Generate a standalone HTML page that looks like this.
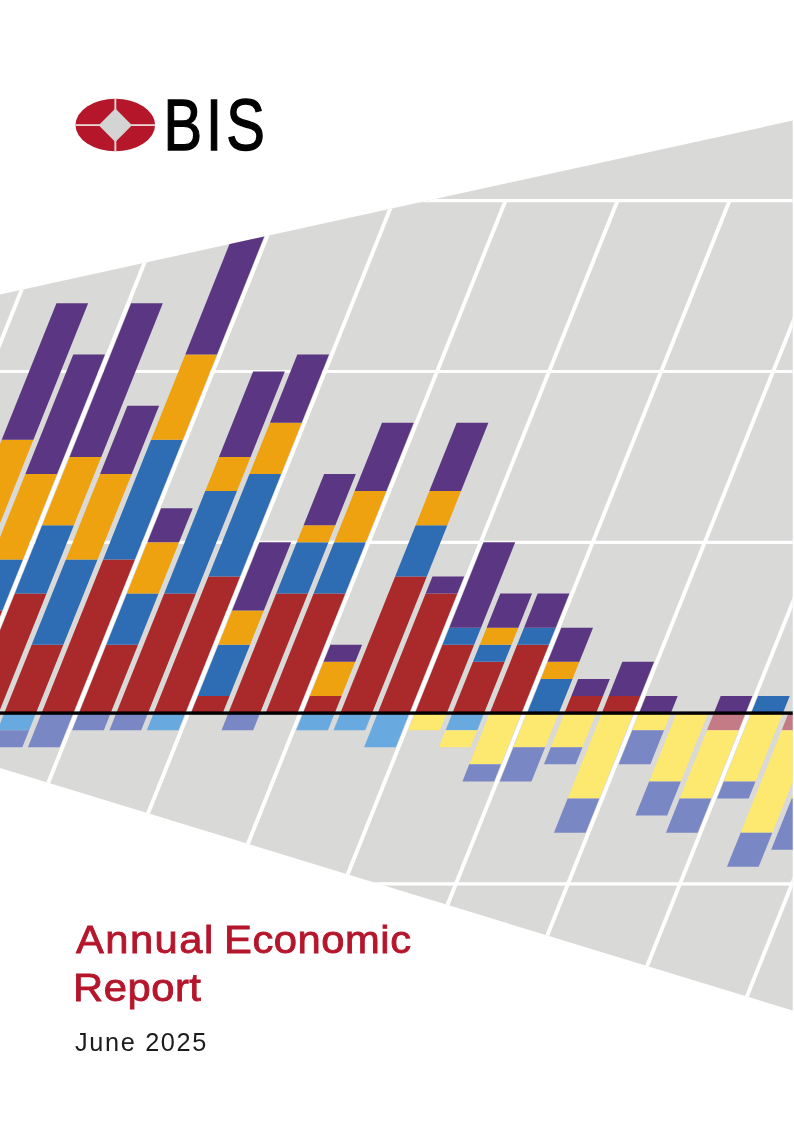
<!DOCTYPE html>
<html lang="en"><head><meta charset="utf-8"><title>BIS Annual Economic Report</title>
<style>
html,body{margin:0;padding:0;background:#fff;}
body{width:794px;height:1123px;position:relative;overflow:hidden;font-family:"Liberation Sans",sans-serif;}
svg{position:absolute;left:0;top:0;}
.t{position:absolute;margin:0;font-weight:400;font-size:39.4px;line-height:48px;color:#b5162c;-webkit-text-stroke:0.85px #b5162c;white-space:nowrap;transform:scaleX(1.06);transform-origin:0 0;}
.date{position:absolute;left:75px;top:1027px;margin:0;font-size:25.3px;line-height:30px;color:#1d1b1c;letter-spacing:1.65px;white-space:nowrap;}
</style></head><body>
<svg width="794" height="1123" viewBox="0 0 794 1123">
<defs><clipPath id="el"><ellipse cx="115.3" cy="125.05" rx="39.8" ry="26.25"/></clipPath><clipPath id="cp"><polygon points="0,294.5 792.7,120.6 792.7,1010.6 0,768"/></clipPath></defs>
<g clip-path="url(#cp)">
<rect x="0" y="0" width="794" height="1123" fill="#d9d9d8"/>
<g transform="matrix(1 0 -0.4005 1 285.597 0)">
<rect x="-600" y="199.10" width="2200" height="3.2" fill="#fff"/>
<rect x="-600" y="369.90" width="2200" height="3.2" fill="#fff"/>
<rect x="-600" y="540.70" width="2200" height="3.2" fill="#fff"/>
<rect x="-600" y="882.30" width="2200" height="3.2" fill="#fff"/>
<rect x="-374.07" y="200.70" width="4.2" height="1024.80" fill="#fff"/>
<rect x="-262.04" y="200.70" width="4.2" height="1024.80" fill="#fff"/>
<rect x="-150.00" y="200.70" width="4.2" height="1024.80" fill="#fff"/>
<rect x="-37.97" y="200.70" width="4.2" height="1024.80" fill="#fff"/>
<rect x="74.07" y="200.70" width="4.2" height="1024.80" fill="#fff"/>
<rect x="186.10" y="200.70" width="4.2" height="1024.80" fill="#fff"/>
<rect x="298.14" y="200.70" width="4.2" height="1024.80" fill="#fff"/>
<rect x="410.17" y="200.70" width="4.2" height="1024.80" fill="#fff"/>
<rect x="522.21" y="200.70" width="4.2" height="1024.80" fill="#fff"/>
<rect x="634.24" y="200.70" width="4.2" height="1024.80" fill="#fff"/>
<rect x="746.28" y="200.70" width="4.2" height="1024.80" fill="#fff"/>
<rect x="858.31" y="200.70" width="4.2" height="1024.80" fill="#fff"/>
<rect x="970.35" y="200.70" width="4.2" height="1024.80" fill="#fff"/>
<rect x="-107.73" y="593.54" width="31.7" height="119.56" fill="#aa2a2b"/>
<rect x="-107.73" y="525.22" width="31.7" height="68.32" fill="#2e6db4"/>
<rect x="-107.73" y="439.82" width="31.7" height="85.40" fill="#eea20f"/>
<rect x="-107.73" y="303.18" width="31.7" height="136.64" fill="#5b3682"/>
<rect x="-70.39" y="610.62" width="31.7" height="102.48" fill="#aa2a2b"/>
<rect x="-70.39" y="559.38" width="31.7" height="51.24" fill="#2e6db4"/>
<rect x="-70.39" y="473.98" width="31.7" height="85.40" fill="#eea20f"/>
<rect x="-70.39" y="354.42" width="31.7" height="119.56" fill="#5b3682"/>
<rect x="-33.05" y="593.54" width="31.7" height="119.56" fill="#aa2a2b"/>
<rect x="-33.05" y="525.22" width="31.7" height="68.32" fill="#2e6db4"/>
<rect x="-33.05" y="456.90" width="31.7" height="68.32" fill="#eea20f"/>
<rect x="-33.05" y="303.18" width="31.7" height="153.72" fill="#5b3682"/>
<rect x="4.30" y="644.78" width="31.7" height="68.32" fill="#aa2a2b"/>
<rect x="4.30" y="559.38" width="31.7" height="85.40" fill="#2e6db4"/>
<rect x="4.30" y="473.98" width="31.7" height="85.40" fill="#eea20f"/>
<rect x="4.30" y="405.66" width="31.7" height="68.32" fill="#5b3682"/>
<rect x="4.30" y="713.10" width="31.7" height="17.08" fill="#68aadf"/>
<rect x="4.30" y="730.18" width="31.7" height="17.08" fill="#7a87c5"/>
<rect x="41.64" y="559.38" width="31.7" height="153.72" fill="#aa2a2b"/>
<rect x="41.64" y="439.82" width="31.7" height="119.56" fill="#2e6db4"/>
<rect x="41.64" y="354.42" width="31.7" height="85.40" fill="#eea20f"/>
<rect x="41.64" y="200.70" width="31.7" height="153.72" fill="#5b3682"/>
<rect x="41.64" y="713.10" width="31.7" height="34.16" fill="#7a87c5"/>
<rect x="78.99" y="644.78" width="31.7" height="68.32" fill="#aa2a2b"/>
<rect x="78.99" y="593.54" width="31.7" height="51.24" fill="#2e6db4"/>
<rect x="78.99" y="542.30" width="31.7" height="51.24" fill="#eea20f"/>
<rect x="78.99" y="508.14" width="31.7" height="34.16" fill="#5b3682"/>
<rect x="78.99" y="713.10" width="31.7" height="17.08" fill="#7a87c5"/>
<rect x="116.33" y="593.54" width="31.7" height="119.56" fill="#aa2a2b"/>
<rect x="116.33" y="491.06" width="31.7" height="102.48" fill="#2e6db4"/>
<rect x="116.33" y="456.90" width="31.7" height="34.16" fill="#eea20f"/>
<rect x="116.33" y="371.50" width="31.7" height="85.40" fill="#5b3682"/>
<rect x="116.33" y="713.10" width="31.7" height="17.08" fill="#7a87c5"/>
<rect x="153.68" y="576.46" width="31.7" height="136.64" fill="#aa2a2b"/>
<rect x="153.68" y="473.98" width="31.7" height="102.48" fill="#2e6db4"/>
<rect x="153.68" y="422.74" width="31.7" height="51.24" fill="#eea20f"/>
<rect x="153.68" y="354.42" width="31.7" height="68.32" fill="#5b3682"/>
<rect x="153.68" y="713.10" width="31.7" height="17.08" fill="#68aadf"/>
<rect x="191.03" y="696.02" width="31.7" height="17.08" fill="#aa2a2b"/>
<rect x="191.03" y="644.78" width="31.7" height="51.24" fill="#2e6db4"/>
<rect x="191.03" y="610.62" width="31.7" height="34.16" fill="#eea20f"/>
<rect x="191.03" y="542.30" width="31.7" height="68.32" fill="#5b3682"/>
<rect x="228.37" y="593.54" width="31.7" height="119.56" fill="#aa2a2b"/>
<rect x="228.37" y="542.30" width="31.7" height="51.24" fill="#2e6db4"/>
<rect x="228.37" y="525.22" width="31.7" height="17.08" fill="#eea20f"/>
<rect x="228.37" y="473.98" width="31.7" height="51.24" fill="#5b3682"/>
<rect x="228.37" y="713.10" width="31.7" height="17.08" fill="#7a87c5"/>
<rect x="265.71" y="593.54" width="31.7" height="119.56" fill="#aa2a2b"/>
<rect x="265.71" y="542.30" width="31.7" height="51.24" fill="#2e6db4"/>
<rect x="265.71" y="491.06" width="31.7" height="51.24" fill="#eea20f"/>
<rect x="265.71" y="422.74" width="31.7" height="68.32" fill="#5b3682"/>
<rect x="303.06" y="696.02" width="31.7" height="17.08" fill="#aa2a2b"/>
<rect x="303.06" y="661.86" width="31.7" height="34.16" fill="#eea20f"/>
<rect x="303.06" y="644.78" width="31.7" height="17.08" fill="#5b3682"/>
<rect x="303.06" y="713.10" width="31.7" height="17.08" fill="#68aadf"/>
<rect x="340.41" y="576.46" width="31.7" height="136.64" fill="#aa2a2b"/>
<rect x="340.41" y="525.22" width="31.7" height="51.24" fill="#2e6db4"/>
<rect x="340.41" y="491.06" width="31.7" height="34.16" fill="#eea20f"/>
<rect x="340.41" y="422.74" width="31.7" height="68.32" fill="#5b3682"/>
<rect x="340.41" y="713.10" width="31.7" height="17.08" fill="#68aadf"/>
<rect x="377.75" y="593.54" width="31.7" height="119.56" fill="#aa2a2b"/>
<rect x="377.75" y="576.46" width="31.7" height="17.08" fill="#5b3682"/>
<rect x="377.75" y="713.10" width="31.7" height="34.16" fill="#68aadf"/>
<rect x="415.09" y="644.78" width="31.7" height="68.32" fill="#aa2a2b"/>
<rect x="415.09" y="627.70" width="31.7" height="17.08" fill="#2e6db4"/>
<rect x="415.09" y="542.30" width="31.7" height="85.40" fill="#5b3682"/>
<rect x="415.09" y="713.10" width="31.7" height="17.08" fill="#fde870"/>
<rect x="452.44" y="661.86" width="31.7" height="51.24" fill="#aa2a2b"/>
<rect x="452.44" y="644.78" width="31.7" height="17.08" fill="#2e6db4"/>
<rect x="452.44" y="627.70" width="31.7" height="17.08" fill="#eea20f"/>
<rect x="452.44" y="593.54" width="31.7" height="34.16" fill="#5b3682"/>
<rect x="452.44" y="713.10" width="31.7" height="17.08" fill="#68aadf"/>
<rect x="452.44" y="730.18" width="31.7" height="17.08" fill="#fde870"/>
<rect x="489.79" y="644.78" width="31.7" height="68.32" fill="#aa2a2b"/>
<rect x="489.79" y="627.70" width="31.7" height="17.08" fill="#2e6db4"/>
<rect x="489.79" y="593.54" width="31.7" height="34.16" fill="#5b3682"/>
<rect x="489.79" y="713.10" width="31.7" height="51.24" fill="#fde870"/>
<rect x="489.79" y="764.34" width="31.7" height="17.08" fill="#7a87c5"/>
<rect x="527.13" y="678.94" width="31.7" height="34.16" fill="#2e6db4"/>
<rect x="527.13" y="661.86" width="31.7" height="17.08" fill="#eea20f"/>
<rect x="527.13" y="627.70" width="31.7" height="34.16" fill="#5b3682"/>
<rect x="527.13" y="713.10" width="31.7" height="34.16" fill="#fde870"/>
<rect x="527.13" y="747.26" width="31.7" height="34.16" fill="#7a87c5"/>
<rect x="564.47" y="696.02" width="31.7" height="17.08" fill="#aa2a2b"/>
<rect x="564.47" y="678.94" width="31.7" height="17.08" fill="#5b3682"/>
<rect x="564.47" y="713.10" width="31.7" height="34.16" fill="#fde870"/>
<rect x="564.47" y="747.26" width="31.7" height="17.08" fill="#7a87c5"/>
<rect x="601.82" y="696.02" width="31.7" height="17.08" fill="#aa2a2b"/>
<rect x="601.82" y="661.86" width="31.7" height="34.16" fill="#5b3682"/>
<rect x="601.82" y="713.10" width="31.7" height="85.40" fill="#fde870"/>
<rect x="601.82" y="798.50" width="31.7" height="34.16" fill="#7a87c5"/>
<rect x="639.16" y="696.02" width="31.7" height="17.08" fill="#5b3682"/>
<rect x="639.16" y="713.10" width="31.7" height="17.08" fill="#fde870"/>
<rect x="639.16" y="730.18" width="31.7" height="34.16" fill="#7a87c5"/>
<rect x="676.51" y="713.10" width="31.7" height="68.32" fill="#fde870"/>
<rect x="676.51" y="781.42" width="31.7" height="34.16" fill="#7a87c5"/>
<rect x="713.85" y="696.02" width="31.7" height="17.08" fill="#5b3682"/>
<rect x="713.85" y="713.10" width="31.7" height="17.08" fill="#c47b85"/>
<rect x="713.85" y="730.18" width="31.7" height="68.32" fill="#fde870"/>
<rect x="713.85" y="798.50" width="31.7" height="34.16" fill="#7a87c5"/>
<rect x="751.20" y="696.02" width="31.7" height="17.08" fill="#2e6db4"/>
<rect x="751.20" y="713.10" width="31.7" height="68.32" fill="#fde870"/>
<rect x="751.20" y="781.42" width="31.7" height="17.08" fill="#7a87c5"/>
<rect x="788.54" y="713.10" width="31.7" height="17.08" fill="#c47b85"/>
<rect x="788.54" y="730.18" width="31.7" height="102.48" fill="#fde870"/>
<rect x="788.54" y="832.66" width="31.7" height="34.16" fill="#7a87c5"/>
<rect x="825.89" y="713.10" width="31.7" height="17.08" fill="#c47b85"/>
<rect x="825.89" y="730.18" width="31.7" height="68.32" fill="#fde870"/>
<rect x="825.89" y="798.50" width="31.7" height="51.24" fill="#7a87c5"/>
</g>
<rect x="0" y="711.40" width="794" height="3.4" fill="#000"/>
</g>
<g id="logo">
<ellipse cx="115.3" cy="125.05" rx="39.8" ry="26.25" fill="#b5162a"/>
<g clip-path="url(#el)"><rect x="74" y="124.2" width="83" height="1.8" fill="#ead6d8"/>
<rect x="114.4" y="97" width="1.9" height="56" fill="#ead6d8"/></g>
<polygon points="98.7,125.2 115.35,108.5 132,125.2 115.35,141.9" fill="#d4d4d4"/>
<text transform="translate(0,149.9) scale(0.8,1)" x="204.4 257.4 282.9" font-family="Liberation Sans, sans-serif" font-size="72.3" fill="#000" stroke="#000" stroke-width="1.4">BIS</text>
</g>
</svg>
<h1 style="margin:0;font-size:0"><span class="t" id="w1" style="left:75.6px;top:915px;letter-spacing:1.35px">Annual</span> <span class="t" id="w2" style="left:223.8px;top:915px;letter-spacing:0.5px">Economic</span> <span class="t" id="w3" style="left:73px;top:962.9px;letter-spacing:0.5px">Report</span></h1>
<p class="date">June 2025</p>
</body></html>
